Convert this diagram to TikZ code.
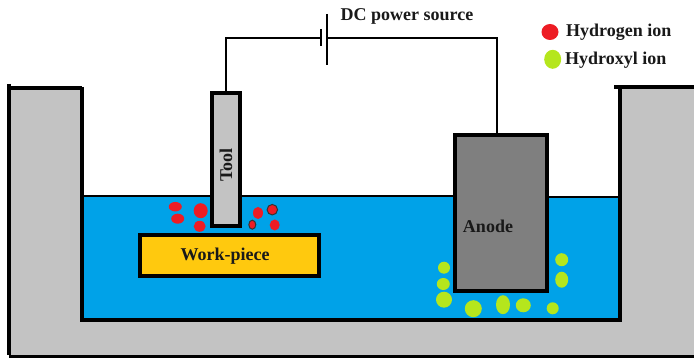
\documentclass[tikz,border=0pt]{standalone}
\usepackage{fontspec}
\setmainfont{Liberation Serif}
\usetikzlibrary{shapes.geometric,positioning}
\definecolor{WT}{HTML}{00A2E8}
\definecolor{TK}{HTML}{C3C3C3}
\definecolor{WP}{HTML}{FFC90E}
\definecolor{AN}{HTML}{7F7F7F}
\definecolor{HI}{HTML}{ED1C24}
\definecolor{OH}{HTML}{B5E61D}
\tikzset{
  lbl/.style={font=\fontsize{18}{18}\selectfont\bfseries, text=black!90, inner sep=0pt},
  part/.style={draw=black, line width=4.4pt, inner sep=0pt},
  ion/.style={ellipse, inner sep=0pt, draw=none},
  hion/.style={ion, fill=HI},
  ohion/.style={ion, fill=OH},
  wire/.style={draw=black, line width=2.7pt}
}

\begin{document}
\begin{tikzpicture}[x=1pt,y=-1pt]
    \useasboundingbox (0,0) rectangle (694,358);

    % bath
    \fill[WT] (82,196) -- (620,197) -- (620,319) -- (82,319) -- cycle;
    \draw[black, line width=2.6pt] (82,196) -- (455,196);
    \draw[black, line width=2.6pt] (547,197) -- (620,197);
    \fill[TK] (9,88) -- (82,88) -- (82,319) -- (620,319) -- (620,88) -- (694,88) -- (694,355) -- (9,355) -- cycle;
    \draw[black, line width=4pt] (9,84) -- (9,355);
    \draw[black, line width=3.4pt] (9,88) -- (82,88);
    \draw[black, line width=3.4pt] (614,87) -- (694,87);
    \draw[black, line width=3pt] (9,356) -- (694,356);
    \draw[black, line width=4pt] (82,87) -- (82,320) -- (620,320) -- (620,87);

    % ions near the tool
    \node[hion, minimum width=13pt, minimum height=9.5pt] (h1) at (175.3,206.7) {};
    \node[hion, minimum width=13pt, minimum height=10pt] (h2) at (177.7,218.7) {};
    \node[hion, minimum width=14pt, minimum height=15pt] (h3) at (200.7,210.7) {};
    \node[hion, minimum width=12pt, minimum height=11pt] (h4) at (199.7,226.3) {};
    \node[hion, minimum width=10pt, minimum height=12pt] (h5) at (258,213) {};
    \node[hion, draw=black!80, line width=1pt, minimum width=10.5pt, minimum height=10.5pt] (h6) at (272.3,209.7) {};
    \node[hion, draw=black!80, line width=1pt, minimum width=7pt, minimum height=9pt] (h7) at (252.3,224.7) {};
    \node[hion, minimum width=10pt, minimum height=11pt] (h8) at (274.7,225) {};

    % ions near the anode
    \node[ohion, minimum width=12pt, minimum height=12pt] (oh1) at (444,267.7) {};
    \node[ohion, minimum width=13pt, minimum height=12pt] (oh2) at (443.3,284) {};
    \node[ohion, minimum width=16pt, minimum height=16pt] (oh3) at (444,299.7) {};
    \node[ohion, minimum width=17pt, minimum height=17pt] (oh4) at (473.3,308.7) {};
    \node[ohion, minimum width=14pt, minimum height=19pt] (oh5) at (503,304.7) {};
    \node[ohion, minimum width=15pt, minimum height=14pt] (oh6) at (523.3,305.3) {};
    \node[ohion, minimum width=12pt, minimum height=12pt] (oh7) at (552.7,308.3) {};
    \node[ohion, minimum width=13pt, minimum height=13pt] (oh8) at (561.7,259.7) {};
    \node[ohion, minimum width=13pt, minimum height=16pt] (oh9) at (561.7,279.7) {};

    % tool, work-piece, anode
    \node[part, fill=TK, minimum width=28pt, minimum height=133pt] (tool) at (226,159.5) {};
    \node[part, fill=WP, minimum width=179pt, minimum height=41pt] (workpiece) at (229.5,255.5) {};
    \node[part, fill=AN, minimum width=92pt, minimum height=156pt] (anode) at (501,213) {};
    \node[lbl, rotate=90] (toollabel) at (226,165) {Tool};
    \node[lbl] (workpiecelabel) at (225,256) {Work-piece};
    \node[lbl] (anodelabel) at (488,226) {Anode};

    % cell and wires
    \coordinate (shorttop) at (321,29);
    \coordinate (shortbottom) at (321,46);
    \coordinate (shortmid) at (321,38);
    \coordinate (longtop) at (327,14);
    \coordinate (longbottom) at (327,65);
    \coordinate (longmid) at (327,38);
    \coordinate (wirecorner) at (497,38);
    \coordinate (anodetap) at (497,133);
    \draw[wire] (shorttop) -- (shortbottom);
    \draw[wire] (longtop) -- (longbottom);
    \draw[wire] (tool.north) |- (shortmid);
    \draw[wire] (longmid) -- (wirecorner) -- (anodetap);
    \node[lbl] (cell) at (407,16) {DC power source};

    % legend
    \node[hion, minimum width=17pt, minimum height=16pt] (hkey) at (550,32) {};
    \node[ohion, minimum width=17pt, minimum height=19pt] (ohkey) at (552.7,59.3) {};
    \node[lbl, anchor=west] (hkeylabel) at (566,32) {Hydrogen ion};
    \node[lbl, anchor=west] (ohkeylabel) at (565,60) {Hydroxyl ion};
  \end{tikzpicture}
\end{document}
